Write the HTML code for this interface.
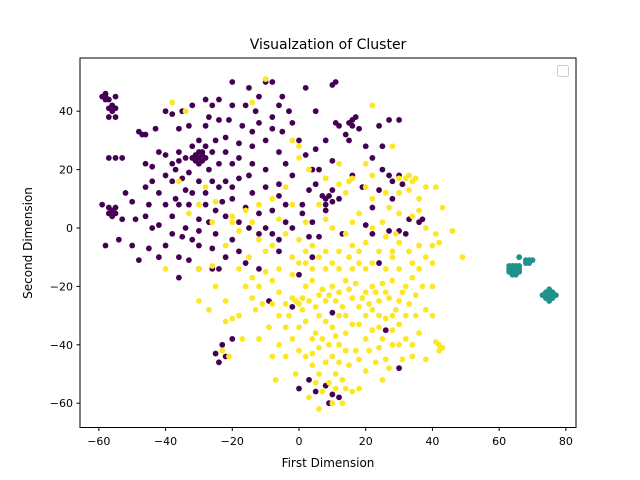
<!DOCTYPE html>
<html><head><meta charset="utf-8"><style>
body{margin:0;background:#fff;}
svg{display:block;font-family:"DejaVu Sans","Liberation Sans",sans-serif;}
</style></head><body>
<svg id="chart" width="640" height="480">
<rect width="640" height="480" fill="#fff"/>
<text x="328" y="49" font-size="14" text-anchor="middle">Visualzation of Cluster</text>
<g id="marks"></g>
<g id="axes"></g>
<rect x="80" y="58" width="496" height="369.5" fill="none" stroke="#000" stroke-width="1"/>
<rect x="557.5" y="65.5" width="11" height="11" rx="2" fill="#fff" stroke="#ccc"/>
<text x="328" y="467" font-size="12" text-anchor="middle">First Dimension</text>
<text x="32" y="243" font-size="12" text-anchor="middle" transform="rotate(-90 32 243)">Second Dimension</text>
</svg>
<script>
const xTicks=[-60,-40,-20,0,20,40,60,80];
const yTicks=[-60,-40,-20,0,20,40];
const purplePts=[[-58,45],[-56,42],[-55,45],[-57,38],[-55,38],[-47,32],[-48,33],[-56,6],[-57,7],[-55,5],[-58,-6],[-57,24],[-55,24],[-53,24],[-59,8],[-53,3],[-50,9],[-50,-6],[-46,14],[-44,16],[-44,21],[-45,-7],[-42,-10],[-40,40],[-38,39],[-35,40],[-33,35],[-30,24],[-31,23],[-29,25],[-40,25],[-38,22],[-36,23],[-40,18],[-38,16],[-35,17],[-34,13],[-37,10],[-40,8],[-36,8],[-33,8],[-42,1],[-38,-2],[-35,-3],[-32,-4],[-30,-1],[-36,-17],[-33,-11],[-30,-14],[-26,-14],[-24,-14],[-30,-6],[-26,-7],[-25,-2],[-27,2],[-25,6],[-23,9],[-20,10],[-28,12],[-24,14],[-22,16],[-18,17],[-27,20],[-24,22],[-20,22],[-28,28],[-25,30],[-22,31],[-18,29],[-14,28],[-28,35],[-24,37],[-21,37],[-17,35],[-20,42],[-24,44],[-26,42],[-13,40],[-12,45],[-10,50],[-8,50],[-15,48],[-5,45],[-3,40],[-8,38],[-12,36],[-5,33],[-10,30],[-6,26],[-14,22],[-10,20],[-4,22],[-2,18],[-6,15],[-10,14],[-14,12],[-16,7],[-12,5],[-8,6],[-4,8],[-15,0],[-12,-2],[-8,-2],[-20,-4],[-18,-8],[-22,-10],[-16,-12],[-12,-14],[-9,-25],[-23,-40],[-25,-43],[-22,-44],[-24,-46],[-20,-38],[1,8],[3,13],[5,15],[8,10],[10,9],[12,10],[10,13],[8,6],[4,2],[1,5],[6,-3],[13,-2],[0,-16],[2,25],[5,27],[8,30],[12,35],[16,37],[17,38],[11,36],[15,30],[20,28],[25,28],[22,24],[10,23],[5,40],[2,48],[10,49],[11,50],[14,32],[24,35],[27,37],[30,37],[24,13],[22,7],[27,18],[30,18],[28,16],[31,15],[32,-2],[36,2],[37,3],[27,-1],[24,-12],[10,-29],[0,-55],[3,-52],[5,-56],[8,-54],[9,-60],[12,-58],[10,-57],[30,-48],[4,-10],[-2,-27],[-6,-8],[3,-3],[26,-35],[-48,-11],[-54,-4],[-44,0],[-45,8],[-52,12],[-42,26],[-43,34],[-32,42],[-28,44],[-20,50],[-6,11],[-2,0],[16,18],[19,14],[22,-2],[20,1],[-46,22],[-49,3],
[-59,45],[-58,46],[-57,44],[-56,40],[-55,41],[-57,41],[-58,44],[-31,25],[-29,23],[-30,22],[-31,24],[-28,24],[-30,26],[-29,26],[-32,24],[-46,32],[-55,7],[-57,5],[-56,4],[15,36],[16,35],[7,11],[9,11],[8,8],[-36,26],[-34,24],[-37,20],[-33,19],[-32,28],[-30,30],[-26,26],[-22,26],[-18,24],[-15,18],[-20,14],[-26,16],[-30,16],[-32,12],[-28,8],[-30,3],[-34,0],[-38,4],[-42,12],[-46,4],[-40,-6],[-36,-10],[-14,33],[-8,34],[-2,36],[0,30],[-16,42],[-6,42],[-27,38],[-36,34],[-22,4],[-18,2],[-10,0],[-6,-4],[30,-1],[33,3],[28,10],[25,20],[18,34],[4,20],[6,20],[-4,2]];
const yellowPts=[[-10,51],[-38,43],[-34,40],[-40,-14],[-30,-25],[-22,-25],[-18,-30],[-14,-17],[-10,-15],[-22,-32],[-20,-31],[-17,-38],[-23,-42],[-21,-44],[-13,-28],[-11,-26],[-6,-22],[-4,-26],[-2,-24],[1,-28],[2,-20],[4,-18],[6,-23],[8,-25],[10,-20],[12,-22],[14,-18],[16,-24],[18,-27],[20,-22],[22,-20],[24,-25],[26,-22],[28,-18],[30,-25],[32,-20],[34,-17],[36,-14],[38,-10],[40,-12],[42,-5],[41,-2],[43,7],[41,14],[35,17],[32,17],[33,13],[36,6],[38,0],[30,5],[27,7],[25,2],[22,0],[20,-5],[18,-8],[15,-10],[12,-8],[10,-12],[8,-14],[6,-10],[4,-6],[2,-8],[0,-4],[-2,-10],[-4,-2],[-6,3],[-8,-6],[-10,-8],[-12,-4],[-14,2],[-16,6],[-18,-1],[-20,4],[-22,-6],[-26,-13],[-27,-28],[-30,8],[-36,16],[-33,5],[-25,9],[-28,14],[-20,2],[-25,-20],[0,24],[3,20],[-2,30],[8,17],[12,15],[14,12],[16,17],[20,22],[22,10],[18,5],[16,2],[14,-2],[10,0],[8,3],[-2,8],[-4,14],[0,-34],[2,-32],[5,-36],[7,-38],[10,-34],[12,-40],[14,-36],[17,-42],[20,-38],[22,-35],[24,-30],[26,-45],[28,-40],[30,-33],[32,-38],[34,-44],[36,-36],[38,-28],[40,-20],[42,-40],[43,-41],[46,-1],[49,-10],[-8,-44],[-6,-40],[-4,-44],[-2,-38],[-9,-34],[-12,-38],[-7,-52],[-1,-50],[2,-44],[4,-47],[6,-50],[8,-46],[11,-50],[13,-52],[15,-47],[18,-55],[20,-49],[23,-46],[25,-52],[3,-58],[6,-62],[10,-60],[13,-60],[16,-56],[4,-43],[0,-42],[-4,-34],[18,-33],[25,-38],[-16,-20],[-8,-18],[-2,-16],[20,-14],[28,-10],[30,-5],[33,-8],[24,-8],[34,4],[22,42],[28,28],[12,-30],[6,-30],[-18,-14],[-15,-10],[2,-12],[16,-14],[28,-30],[38,-45],[0,28],[-14,43],[-26,2],[-30,-14],[35,-30],[10,-44],
[0,-26],[1,-24],[-1,-25],[3,-25],[5,-27],[7,-21],[9,-23],[11,-25],[13,-27],[15,-21],[17,-19],[19,-24],[21,-26],[23,-22],[25,-19],[27,-24],[29,-28],[31,-22],[33,-26],[35,-23],[20,-30],[22,-28],[24,-34],[26,-31],[28,-35],[30,-40],[14,-30],[16,-33],[8,-32],[4,-38],[6,-41],[9,-40],[11,-37],[14,-42],[18,-45],[21,-42],[24,-41],[27,-48],[31,-45],[34,-40],[7,-56],[9,-53],[11,-55],[14,-55],[5,-53],[12,-46],[-3,-30],[-6,-30],[-8,-26],[-14,-24],[-12,-20],[-6,-14],[0,-12],[4,-14],[8,-8],[12,-14],[16,-6],[18,-12],[22,-12],[26,-14],[30,-14],[34,-12],[36,-6],[40,-6],[36,10],[38,14],[30,12],[26,12],[20,14],[22,18],[12,22],[6,8],[2,2],[-8,10],[-12,8],[28,-8],[32,-30],[37,-20],[40,-30],[42,-42],[41,-39],[30,17],[34,16],[33,18],[15,16],[26,-3],[29,-2]];
const tealPts=[[64,-14],[65,-13],[66,-15],[64,-16],[63,-14],[65,-16],[75,-23],[74,-22],[76,-24],[74,-24],[76,-22],[69,-12],[70,-11],[66,-10],[68,-11],
[63,-15],[64,-13],[65,-15],[66,-13],[64,-15],[65,-14],[66,-14],[63,-13],[75,-22],[75,-24],[74,-23],[76,-23],[73,-23],[77,-23],[75,-21],[75,-25],[69,-11],[68,-12]];
const NS="http://www.w3.org/2000/svg";
function sx(v){return 299+v*3.336;}
function sy(v){return 228-v*2.92;}
const marks=document.getElementById('marks');
const axes=document.getElementById('axes');
function drawSeries(pts,color,name){
  pts.forEach(p=>{
    const c=document.createElementNS(NS,'circle');
    c.setAttribute('cx',sx(p[0]));c.setAttribute('cy',sy(p[1]));
    c.setAttribute('r',2.9);c.setAttribute('fill',color);
    
    
    marks.appendChild(c);
  });
}
drawSeries(purplePts,'#440154','point-cluster-purple');
drawSeries(yellowPts,'#fde725','point-cluster-yellow');
drawSeries(tealPts,'#21918c','point-cluster-teal');
xTicks.forEach(t=>{
  const x=sx(t);
  const l=document.createElementNS(NS,'line');
  l.setAttribute('x1',x);l.setAttribute('x2',x);l.setAttribute('y1',427.5);l.setAttribute('y2',431);l.setAttribute('stroke','#000');
  
  
  axes.appendChild(l);
  const tx=document.createElementNS(NS,'text');
  tx.setAttribute('x',x);tx.setAttribute('y',445);tx.setAttribute('font-size','11');tx.setAttribute('text-anchor','middle');
  tx.textContent=(t<0?'\u2212'+(-t):t);
  
  
  axes.appendChild(tx);
});
yTicks.forEach(t=>{
  const y=sy(t);
  const l=document.createElementNS(NS,'line');
  l.setAttribute('x1',76.5);l.setAttribute('x2',80);l.setAttribute('y1',y);l.setAttribute('y2',y);l.setAttribute('stroke','#000');
  
  
  axes.appendChild(l);
  const tx=document.createElementNS(NS,'text');
  tx.setAttribute('x',73);tx.setAttribute('y',y+4);tx.setAttribute('font-size','11');tx.setAttribute('text-anchor','end');
  tx.textContent=(t<0?'\u2212'+(-t):t);
  
  
  axes.appendChild(tx);
});
</script>
</body></html>
